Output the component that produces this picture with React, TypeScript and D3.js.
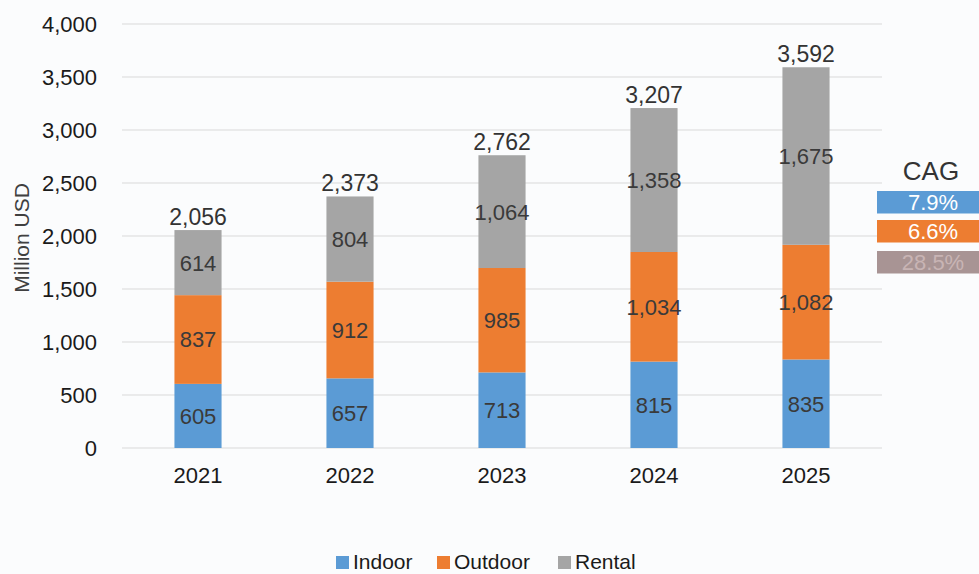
import React from "react";
import * as d3 from "d3";

const years = ["2021", "2022", "2023", "2024", "2025"];
const indoor = [605, 657, 713, 815, 835];
const outdoor = [837, 912, 985, 1034, 1082];
const rental = [614, 804, 1064, 1358, 1675];
const seriesNames = ["Indoor", "Outdoor", "Rental"];
const seriesColors = ["#5b9bd5", "#ed7d31", "#a5a5a5"];
const yTicks = [0, 500, 1000, 1500, 2000, 2500, 3000, 3500, 4000];
const cagrLabels = ["7.9%", "6.6%", "28.5%"];

const W = 979;
const H = 574;
const FONT = "'Liberation Sans', Arial, sans-serif";

export default function App() {
  const x = d3.scaleBand<string>().domain(years).range([122, 882]).paddingInner(0.69).paddingOuter(0.345);
  const y = d3.scaleLinear().domain([0, 4000]).range([448, 24]);
  const fmt = d3.format(",");

  const rows = years.map((yr, i) => ({ year: yr, Indoor: indoor[i], Outdoor: outdoor[i], Rental: rental[i] }));
  const stack = d3.stack<any>().keys(seriesNames)(rows);

  const legendX = [336, 437, 558];

  const boxColors = ["#5b9bd5", "#ed7d31", "#a89494"];
  const boxY = [191, 220, 251];

  return (
    <svg width={W} height={H} style={{ position: "absolute", left: 0, top: 0, background: "#fbfcfd", fontFamily: FONT }}>
      <rect x={0} y={0} width={W} height={H} fill="#fbfcfd" />
      {yTicks.map((t) => (
        <g key={t}>
          <line x1={122} x2={882} y1={y(t)} y2={y(t)} stroke="#d9d9d9" strokeWidth={1} />
          <text x={97} y={y(t)} dy="0.36em" textAnchor="end" fontSize={22} fill="#1a1a1a">
            {fmt(t)}
          </text>
        </g>
      ))}
      <text x={0} y={0} transform={`translate(29,238) rotate(-90)`} textAnchor="middle" fontSize={21} fill="#404040">
        Million USD
      </text>
      {stack.map((s, si) => (
        <g key={s.key}>
          {s.map((d, i) => {
            const x0 = x(years[i])!;
            const top = y(d[1]);
            const bot = y(d[0]);
            const val = d[1] - d[0];
            return (
              <g key={i}>
                <rect x={x0} y={top} width={x.bandwidth()} height={bot - top} fill={seriesColors[si]} />
                <text x={x0 + x.bandwidth() / 2} y={(top + bot) / 2} dy="0.36em" textAnchor="middle" fontSize={22} fill="#3a3a3a">
                  {fmt(val)}
                </text>
              </g>
            );
          })}
        </g>
      ))}
      {years.map((yr, i) => {
        const total = indoor[i] + outdoor[i] + rental[i];
        return (
          <g key={yr}>
            <text x={x(yr)! + x.bandwidth() / 2} y={y(total) - 5} textAnchor="middle" fontSize={23} fill="#333">
              {fmt(total)}
            </text>
            <text x={x(yr)! + x.bandwidth() / 2} y={483} textAnchor="middle" fontSize={22} fill="#1a1a1a">
              {yr}
            </text>
          </g>
        );
      })}
      <text x={931} y={180} textAnchor="middle" fontSize={26} fill="#333">CAG</text>
      {cagrLabels.map((c, i) => (
        <g key={c}>
          <rect x={877} y={boxY[i]} width={102} height={22.5} fill={boxColors[i]} />
          <text x={933} y={boxY[i] + 11} dy="0.36em" textAnchor="middle" fontSize={22} fill={i === 2 ? "#c8b4b4" : "#ffffff"}>
            {c}
          </text>
        </g>
      ))}
      {seriesNames.map((name, i) => (
        <g key={name}>
          <rect x={legendX[i]} y={556} width={13} height={13} fill={seriesColors[i]} />
          <text x={legendX[i] + 17} y={569} fontSize={21} fill="#1a1a1a">
            {name}
          </text>
        </g>
      ))}
    </svg>
  );
}
